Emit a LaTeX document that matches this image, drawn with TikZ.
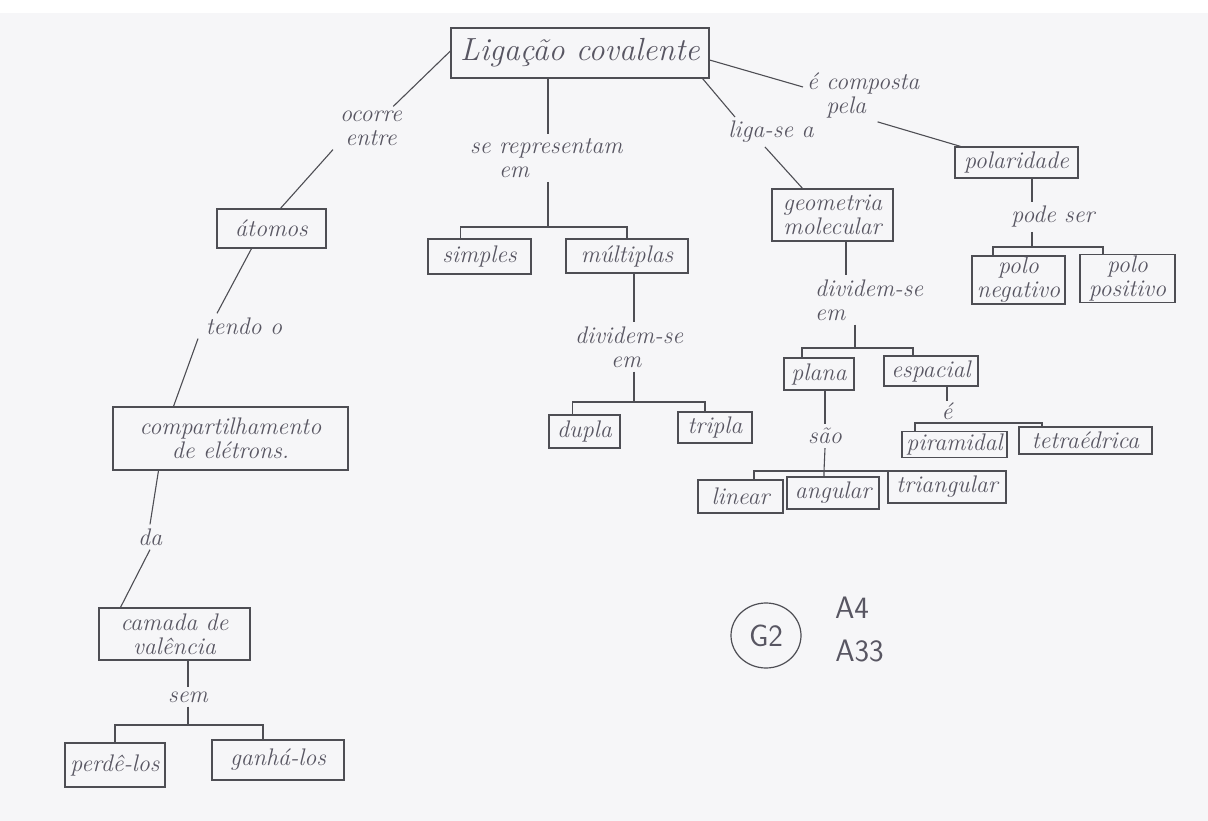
\documentclass[tikz,border=0pt]{standalone}
\usepackage{fontspec}
\usetikzlibrary{shapes.geometric}
\definecolor{paper}{RGB}{246,246,248}
\definecolor{pencil}{RGB}{78,78,84}
\definecolor{lead}{RGB}{88,86,98}
\newcommand\handfont{\itshape\fontsize{24}{24}\selectfont}
\newcommand\bigfont{\itshape\fontsize{32}{32}\selectfont}
\newcommand\printfont{\sffamily\fontsize{31}{31}\selectfont}
\begin{document}
\begin{tikzpicture}[x=1pt,y=-1pt,
  concept/.style={draw=pencil, line width=1.2pt, text=lead, font=\handfont,
    inner sep=0pt, align=center},
  linker/.style={text=lead, font=\handfont, inner sep=4pt, align=center},
  wire/.style={draw=pencil, line width=1.1pt}]

% paper
\fill[paper] (0,0) rectangle (1208,821);
\fill[white] (0,0) rectangle (1208,13);
\useasboundingbox (0,0) rectangle (1208,821);

% ---------- concepts ----------
\node[concept, font=\bigfont, minimum width=258pt, minimum height=50pt] (lig) at (580,53) {Ligação covalente};

\node[concept, minimum width=109pt, minimum height=39pt] (atomos) at (271.5,228.5) {átomos};
\node[concept, minimum width=235pt, minimum height=63pt] (comp) at (230.5,438.5) {compartilhamento\\de elétrons.};
\node[concept, minimum width=151pt, minimum height=52pt] (camada) at (174.5,634) {camada de\\valência};
\node[concept, minimum width=100pt, minimum height=44pt] (perde) at (115,765) {perdê-los};
\node[concept, minimum width=132pt, minimum height=40pt] (ganha) at (278,760) {ganhá-los};

\node[concept, minimum width=103pt, minimum height=35pt] (simples) at (479.5,256.5) {simples};
\node[concept, minimum width=122pt, minimum height=34pt] (multi) at (627,256) {múltiplas};
\node[concept, minimum width=71pt, minimum height=33pt] (dupla) at (584.5,431.5) {dupla};
\node[concept, minimum width=74pt, minimum height=31pt] (tripla) at (715,427.5) {tripla};

\node[concept, minimum width=121pt, minimum height=52pt] (geo) at (832.5,215) {geometria\\molecular};
\node[concept, minimum width=70pt, minimum height=32pt] (plana) at (819,374) {plana};
\node[concept, minimum width=94pt, minimum height=30pt] (espacial) at (931,371) {espacial};
\node[concept, minimum width=85pt, minimum height=33pt] (linear) at (740.5,496.5) {linear};
\node[concept, minimum width=92pt, minimum height=32pt] (angular) at (833,493) {angular};
\node[concept, minimum width=118pt, minimum height=32pt] (triang) at (947,487) {triangular};
\node[concept, minimum width=105pt, minimum height=26pt] (piram) at (954.5,444.5) {piramidal};
\node[concept, minimum width=133pt, minimum height=27pt] (tetra) at (1085.5,440.5) {tetraédrica};

\node[concept, minimum width=123pt, minimum height=31pt] (polar) at (1016.5,162.5) {polaridade};
\node[concept, minimum width=93pt, minimum height=48pt] (neg) at (1018.5,280) {polo\\negativo};
\node[concept, minimum width=95pt, minimum height=48pt] (pos) at (1127.5,278.5) {polo\\positivo};

% ---------- linking phrases ----------
\node[linker] (ocorre) at (371,128) {ocorre\\entre};
\node[linker] (tendo) at (244,326) {tendo o};
\node[linker] (da) at (150,537) {da};
\node[linker] (sem) at (188,697) {sem};
\node[linker, align=left, anchor=west] (serep) at (466,158) {se representam\\\hspace*{1.2em}em};
\node[linker, align=left, anchor=west] (div1) at (571,347) {dividem-se\\\hspace*{1.5em}em};
\node[linker] (liga) at (771,132) {liga-se a};
\node[linker, align=left, anchor=west] (div2) at (811,300) {dividem-se\\em};
\node[linker] (sao) at (825,436) {são};
\node[linker, inner sep=1pt] (e) at (947,411) {é};
\node[linker, align=left, anchor=west] (ecomp) at (803,95) {é composta\\\hspace*{0.8em}pela};
\node[linker] (pode) at (1053,217) {pode ser};

% ---------- junctions of the branching lines ----------
\coordinate (br1) at (188,725);
\coordinate (br2) at (548,227);
\coordinate (br3) at (634,402);
\coordinate (br4) at (855,348);
\coordinate (br5) at (824,471);
\coordinate (br6) at (946,423);
\coordinate (br7) at (1032,247);

% ---------- left branch ----------
\draw[wire] ([yshift=2pt]lig.west) -- (ocorre);
\draw[wire] ([xshift=-38pt]ocorre.south) -- ([xshift=9pt]atomos.north);
\draw[wire] ([xshift=-20pt]atomos.south) -- ([xshift=-27pt]tendo.north);
\draw[wire] ([xshift=-46pt]tendo.south) -- ([xshift=-57pt]comp.north);
\draw[wire] ([xshift=-72pt]comp.south) -- (da.north);
\draw[wire] (da.south) -- ([xshift=-54pt]camada.north);
\draw[wire] (sem.north |- camada.south) -- (sem.north);
\draw[wire] (sem.south) -- (br1);
\draw[wire] (perde.north) |- (br1) -| ([xshift=-15pt]ganha.north);

% ---------- representations ----------
\draw[wire] (br2 |- lig.south) -- (br2 |- serep.north);
\draw[wire] (br2 |- serep.south) -- (br2);
\draw[wire] ([xshift=-19pt]simples.north) |- (br2) -| (multi.north);
\draw[wire] (br3 |- multi.south) -- (br3 |- div1.north);
\draw[wire] (br3 |- div1.south) -- (br3);
\draw[wire] ([xshift=-12pt]dupla.north) |- (br3) -| ([xshift=-10pt]tripla.north);

% ---------- molecular geometry ----------
\draw[wire] ([xshift=-7pt]lig.south east) -- ([xshift=-36pt]liga.north);
\draw[wire] ([xshift=-6pt]liga.south) -- ([xshift=-30pt]geo.north);
\draw[wire] ([xshift=13.5pt]geo.south) -- ([xshift=13.5pt]geo.south |- div2.north);
\draw[wire] (br4 |- div2.south) -- (br4);
\draw[wire] ([xshift=-17pt]plana.north) |- (br4) -| ([xshift=-18pt]espacial.north);
\draw[wire] (sao.north |- plana.south) -- (sao.north);
\draw[wire] (sao.south) -- (br5) -- (br5 |- angular.north);
\draw[wire] ([xshift=13.5pt]linear.north) |- (br5) -| ([xshift=-51pt]triang.north);
\draw[wire] (e.north |- espacial.south) -- (e.north);
\draw[wire] ([xshift=-39.5pt]piram.north) |- (br6) -| ([xshift=-43.5pt]tetra.north);

% ---------- polarity ----------
\draw[wire] ([yshift=-7pt]lig.east) -- ([yshift=8pt]ecomp.west);
\draw[wire] ([xshift=-46pt]ecomp.south east) -- ([xshift=-56pt]polar.north);
\draw[wire] ([xshift=15.5pt]polar.south) -- ([xshift=15.5pt]polar.south |- pode.north);
\draw[wire] (br7 |- pode.south) -- (br7);
\draw[wire] ([xshift=-25.5pt]neg.north) |- (br7) -| ([xshift=-24.5pt]pos.north);

% ---------- group mark ----------
\node[draw=pencil, line width=1.2pt, ellipse, minimum width=70pt, minimum height=65pt,
      inner sep=0pt, text=lead, font=\printfont] (g2) at (766,635.5) {G2};
\node[text=lead, font=\printfont, inner sep=0pt] (a4) at (852,607.5) {A4};
\node[text=lead, font=\printfont, inner sep=0pt] (a33) at (859.5,650.5) {A33};
\end{tikzpicture}
\end{document}
